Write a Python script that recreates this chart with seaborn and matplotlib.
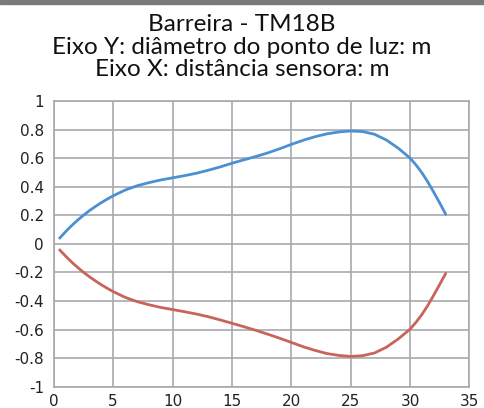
import pandas as pd
import seaborn as sns
import matplotlib
matplotlib.use("Agg")
import matplotlib.pyplot as plt
from matplotlib.patches import Rectangle

# Values
distance = [0.5, 1, 1.5, 2, 2.5, 3, 3.5, 4, 4.5, 5, 6, 7, 8, 9, 10, 11, 12,
            13, 14, 15, 16, 17, 18, 19, 20, 21, 22, 23, 24, 25, 26, 27, 28,
            29, 30, 30.5, 31, 31.5, 32, 32.5, 33]
upper = [0.04, 0.085, 0.127, 0.165, 0.2, 0.232, 0.261, 0.288, 0.313, 0.336,
         0.376, 0.406, 0.428, 0.447, 0.462, 0.477, 0.494, 0.515, 0.538, 0.564,
         0.588, 0.611, 0.636, 0.665, 0.696, 0.725, 0.75, 0.77, 0.783, 0.79,
         0.786, 0.767, 0.727, 0.67, 0.6, 0.552, 0.497, 0.432, 0.36, 0.285, 0.207]
lower = [-0.042, -0.086, -0.127, -0.164, -0.199, -0.23, -0.259, -0.286,
         -0.311, -0.334, -0.374, -0.404, -0.426, -0.445, -0.46, -0.475,
         -0.491, -0.51, -0.532, -0.556, -0.58, -0.605, -0.632, -0.66, -0.69,
         -0.72, -0.746, -0.768, -0.781, -0.788, -0.783, -0.764, -0.724,
         -0.666, -0.597, -0.549, -0.494, -0.43, -0.358, -0.283, -0.207]

x_ticks = [0, 5, 10, 15, 20, 25, 30, 35]
y_ticks = [-1, -0.8, -0.6, -0.4, -0.2, 0, 0.2, 0.4, 0.6, 0.8, 1]
y_labels = ["-1", "-0.8", "-0.6", "-0.4", "-0.2", "0", "0.2", "0.4", "0.6", "0.8", "1"]
title_lines = ["Barreira - TM18B",
               "Eixo Y: diâmetro do ponto de luz: m",
               "Eixo X: distância sensora: m"]

BLUE = "#4a90d2"
RED = "#c8645a"
GRID = "#a8a8b0"

df = pd.DataFrame({"x": distance, "upper": upper, "lower": lower})

sns.set_style("white")
plt.rcParams["font.family"] = ["DejaVu Sans"]

fig = plt.figure(figsize=(4.84, 4.08), dpi=100)
ax = fig.add_axes([0.111, 0.0522, 0.859, 0.7003])

sns.lineplot(data=df, x="x", y="upper", ax=ax, color=BLUE, linewidth=2.0)
sns.lineplot(data=df, x="x", y="lower", ax=ax, color=RED, linewidth=2.0)

ax.set_xlim(0, 35)
ax.set_ylim(-1, 1)
ax.set_xticks(x_ticks)
ax.set_yticks(y_ticks)
ax.set_yticklabels(y_labels)
ax.set_xlabel("")
ax.set_ylabel("")
ax.grid(True, color=GRID, linewidth=1.2)
ax.set_axisbelow(True)
for s in ax.spines.values():
    s.set_color(GRID)
    s.set_linewidth(1.2)
ax.tick_params(length=0, labelsize=11, colors="#222222")
ax.tick_params(axis="x", pad=5)
ax.tick_params(axis="y", pad=7)

# title, one line at a time (baselines)
for line, base in zip(title_lines, [31, 53.5, 76]):
    fig.text(0.5, 1 - base / 408, line, ha="center", va="baseline",
             family=["Lato", "DejaVu Sans"], fontsize=17.5, color="#111111")

# dark bar along the top edge
fig.patches.append(Rectangle((0, 1 - 4 / 408), 1, 4 / 408, transform=fig.transFigure,
                             color="#7a7a7a", zorder=0))

fig.savefig("out.png", dpi=100)
